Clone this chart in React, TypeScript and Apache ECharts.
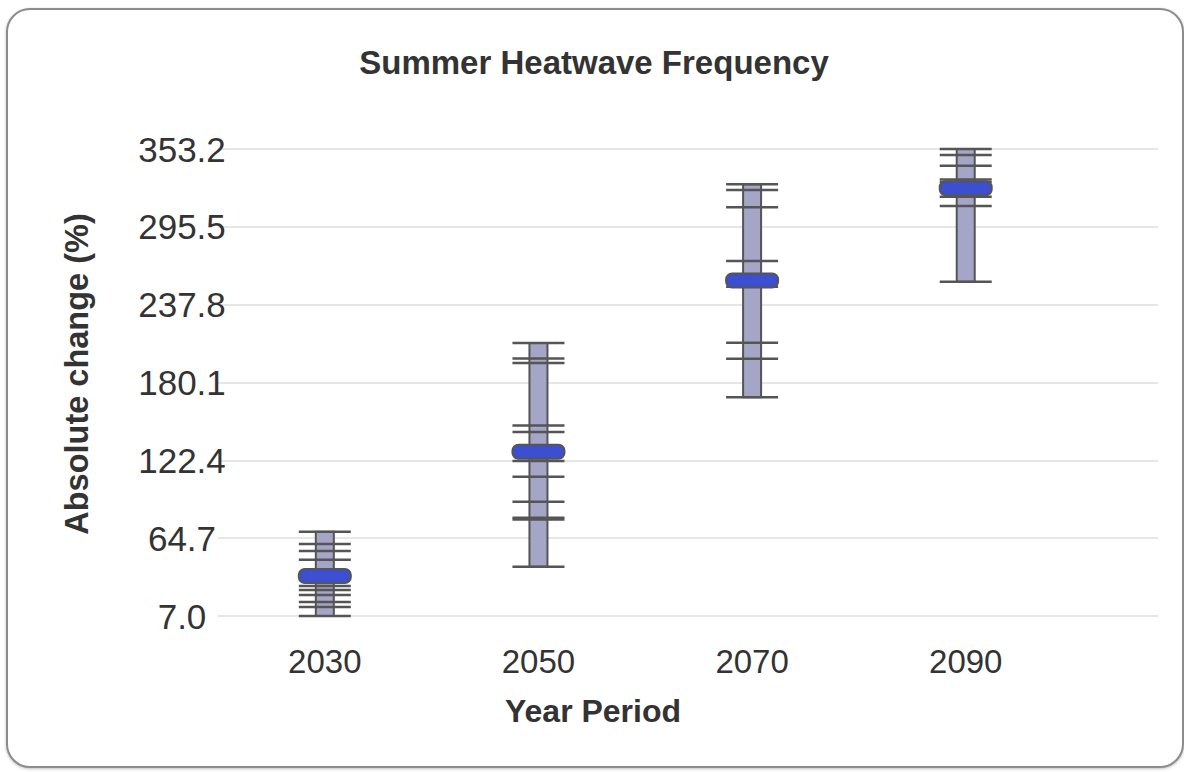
import React, { useEffect, useRef } from 'react';
import * as echarts from 'echarts';

// ---- data ----
const years = [2030, 2050, 2070, 2090];
const xTickLabels = ['2030', '2050', '2070', '2090'];
const models2030 = [69.5, 60.4, 55.2, 48.7, 29.2, 26.3, 22.6, 17.4, 13.7, 7.0];
const models2050 = [209.4, 197.9, 194.6, 148.2, 143.4, 121.9, 110.3, 91.7, 79.8, 78.6, 43.5];
const models2070 = [327.1, 322.8, 310.0, 270.2, 251.0, 209.6, 197.7, 169.2];
const models2090 = [353.2, 348.7, 340.8, 330.5, 328.5, 317.8, 310.9, 254.8];
const medians = [36.7, 128.8, 255.7, 324.1];
const yTickLabels = ['7.0', '64.7', '122.4', '180.1', '237.8', '295.5', '353.2'];
const Y_BASE = 7.0;
const Y_STEP = 57.7;

const modelSets = [models2030, models2050, models2070, models2090];

const FONT = '"Liberation Sans", Arial, Helvetica, sans-serif';

export default function App() {
  const ref = useRef<HTMLDivElement>(null);

  useEffect(() => {
    if (!ref.current) return;
    const chart = echarts.init(ref.current, undefined, { renderer: 'svg' });

    const rangeData = years.map((y, i) => [
      y,
      Math.min(...modelSets[i]) - Y_BASE,
      Math.max(...modelSets[i]) - Y_BASE,
    ]);
    const tickData: number[][] = [];
    years.forEach((y, i) => modelSets[i].forEach((v) => tickData.push([y, v - Y_BASE])));
    const medianData = years.map((y, i) => [y, medians[i] - Y_BASE]);

    const option: any = {
      animation: false,
      backgroundColor: 'transparent',
      grid: { left: 218, right: 26, top: 149, bottom: 156 },
      graphic: [
        {
          type: 'text',
          style: {
            text: 'Summer Heatwave Frequency',
            x: 594,
            y: 62,
            align: 'center',
            verticalAlign: 'middle',
            font: `bold 33px ${FONT}`,
            fill: '#333',
          },
        },
        {
          type: 'text',
          x: 77,
          y: 374,
          rotation: Math.PI / 2,
          style: {
            text: 'Absolute change (%)',
            x: 0,
            y: 0,
            align: 'center',
            verticalAlign: 'middle',
            font: `bold 32.5px ${FONT}`,
            fill: '#333',
          },
        },
        {
          type: 'text',
          style: {
            text: 'Year Period',
            x: 593,
            y: 711,
            align: 'center',
            verticalAlign: 'middle',
            font: `bold 32px ${FONT}`,
            fill: '#333',
          },
        },
      ],
      xAxis: {
        type: 'value',
        min: 2020,
        max: 2108,
        interval: 10,
        axisLine: { show: false },
        axisTick: { show: false },
        splitLine: { show: false },
        axisLabel: {
          margin: 29,
          fontSize: 33,
          fontFamily: FONT,
          color: '#333',
          formatter: (v: number) => (xTickLabels.includes(String(v)) ? String(v) : ''),
        },
      },
      yAxis: {
        type: 'value',
        min: 0,
        max: Y_STEP * 6,
        interval: Y_STEP,
        axisLine: { show: false },
        axisTick: { show: false },
        splitLine: { lineStyle: { color: '#e6e6e6', width: 2 } },
        axisLabel: {
          align: 'center',
          margin: 36,
          fontSize: 35,
          fontFamily: FONT,
          color: '#333',
          formatter: (v: number) => yTickLabels[Math.round(v / Y_STEP)] ?? '',
        },
      },
      series: [
        {
          type: 'custom',
          name: 'range',
          data: rangeData,
          encode: { x: 0, y: [1, 2] },
          z: 2,
          renderItem: (params: any, api: any) => {
            const x = api.value(0);
            const top = api.coord([x, api.value(2)]);
            const bot = api.coord([x, api.value(1)]);
            return {
              type: 'rect',
              shape: { x: top[0] - 9, y: top[1], width: 18, height: bot[1] - top[1] },
              style: { fill: '#a5a5c7', stroke: '#555', lineWidth: 2 },
            };
          },
        },
        {
          type: 'custom',
          name: 'models',
          data: tickData,
          encode: { x: 0, y: 1 },
          z: 3,
          renderItem: (params: any, api: any) => {
            const p = api.coord([api.value(0), api.value(1)]);
            return {
              type: 'line',
              shape: { x1: p[0] - 26, y1: p[1], x2: p[0] + 26, y2: p[1] },
              style: { stroke: '#555', lineWidth: 2.5 },
            };
          },
        },
        {
          type: 'custom',
          name: 'median',
          data: medianData,
          encode: { x: 0, y: 1 },
          z: 4,
          renderItem: (params: any, api: any) => {
            const p = api.coord([api.value(0), api.value(1)]);
            return {
              type: 'rect',
              shape: { x: p[0] - 26, y: p[1] - 7, width: 52, height: 14, r: 6 },
              style: { fill: '#3d4fd1', stroke: '#555', lineWidth: 2 },
            };
          },
        },
      ],
    };

    chart.setOption(option);
    return () => chart.dispose();
  }, []);

  return (
    <div style={{ position: 'fixed', left: 0, top: 0, width: 1184, height: 772, background: '#fff' }}>
      <div
        style={{
          position: 'absolute',
          left: 6,
          top: 8,
          width: 1174,
          height: 756,
          border: '2px solid #8c8c8c',
          borderRadius: 24,
          boxShadow: '0 1px 3px rgba(0,0,0,0.25)',
          background: '#fff',
        }}
      />
      <div ref={ref} style={{ position: 'absolute', left: 0, top: 0, width: 1184, height: 772 }} />
    </div>
  );
}
